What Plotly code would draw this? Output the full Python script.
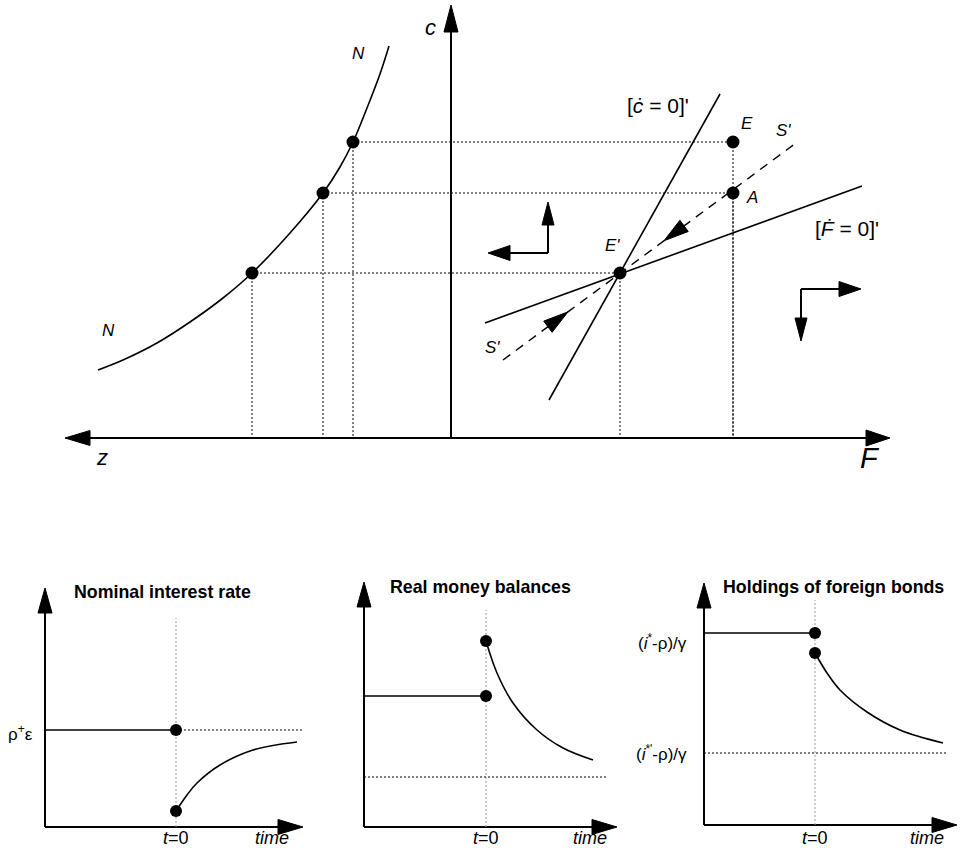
import math
import plotly.graph_objects as go

W, H = 960, 858
FONT = "Liberation Sans, Arial, sans-serif"

# ---------------- main phase diagram (z to the left, F to the right, c up) ----------------
n_curve_z = [-353, -328, -294, -261, -228, -199, -161, -128, -111, -98, -84, -71, -62]
n_curve_c = [68, 78, 95, 116, 140, 165, 205, 245, 271, 296, 330, 364, 392]
z_levels = [-199, -128, -98]          # points on N
c_levels = [165, 245, 296]            # c at E', A, E
F_levels = [169, 282, 282]            # F at E', A, E
point_names = ["E'", "A", "E"]
cdot_F = [98, 269]
cdot_c = [38, 344]
Fdot_F = [34, 411]
Fdot_c = [115, 252]
saddle_F = [52, 345]
saddle_c = [78, 295]
c_axis_top = 433
F_axis_right = 439
z_axis_left = -386

# ---------------- bottom panels ----------------
# 1: nominal interest rate
p1_t0 = 131
p1_level = 97
p1_low = 16
p1_curve_t = [131, 142, 152, 175, 208, 252]
p1_curve_v = [16, 32, 44, 62, 77, 85]
p1_t_end = 258
# 2: real money balances
p2_t0 = 122
p2_level = 131
p2_high = 186
p2_curve_t = [122, 133, 149, 173, 199, 229]
p2_curve_v = [186, 154, 124, 97, 79, 67]
p2_new_level = 50
p2_t_end = 243
# 3: holdings of foreign bonds
p3_t0 = 111
p3_level = 192
p3_low = 172
p3_curve_t = [111, 123, 136, 163, 196, 239]
p3_curve_v = [172, 152, 135, 113, 95, 82]
p3_new_level = 72
p3_t_end = 244

fig = go.Figure()


def line(xs, ys, ax, width=1.6, dash="solid", color="black", shape="linear"):
    fig.add_trace(go.Scatter(x=xs, y=ys, mode="lines", xaxis=ax[0], yaxis=ax[1],
                             line=dict(color=color, width=width, dash=dash, shape=shape, smoothing=1.0),
                             hoverinfo="skip", showlegend=False))


def dots(xs, ys, ax, size=13):
    fig.add_trace(go.Scatter(x=xs, y=ys, mode="markers", xaxis=ax[0], yaxis=ax[1],
                             marker=dict(color="black", size=size, line=dict(width=0)),
                             hoverinfo="skip", showlegend=False))


def head(tip, d, L, Wd, ax):
    n = math.hypot(d[0], d[1])
    ux, uy = d[0] / n, d[1] / n
    bx, by = tip[0] - ux * L, tip[1] - uy * L
    px, py = -uy * Wd / 2, ux * Wd / 2
    fig.add_trace(go.Scatter(x=[tip[0], bx + px, bx - px, tip[0]],
                             y=[tip[1], by + py, by - py, tip[1]],
                             mode="lines", fill="toself", fillcolor="black",
                             line=dict(color="black", width=1), xaxis=ax[0], yaxis=ax[1],
                             hoverinfo="skip", showlegend=False))


def text(s, x, y, ax, size=15, italic=False, bold=False, xanchor="center", yanchor="middle"):
    if italic:
        s = "<i>" + s + "</i>"
    if bold:
        s = "<b>" + s + "</b>"
    fig.add_annotation(x=x, y=y, xref=ax[0], yref=ax[1], text=s, showarrow=False,
                       xanchor=xanchor, yanchor=yanchor,
                       font=dict(family=FONT, size=size, color="black"))


M = ("x", "y")
# axes
line([0, 0], [0, c_axis_top - 20], M, width=2)
head((0, c_axis_top), (0, 1), 27, 14, M)
line([z_axis_left + 20, F_axis_right - 20], [0, 0], M, width=2)
head((F_axis_right, 0), (1, 0), 24, 16, M)
head((z_axis_left, 0), (-1, 0), 25, 15, M)
text("c", -21, 411, M, size=22, italic=True)
text("z", -349, -19, M, size=22, italic=True)
text("F", 419, -20, M, size=29, italic=True)

# dotted guides
for z, c, F in zip(z_levels, c_levels, F_levels):
    line([z, F], [c, c], M, width=1, dash="2px,2px")
    line([z, z], [c, 0], M, width=1, dash="2px,2px")
for F, c in zip(F_levels, c_levels):
    line([F, F], [c, 0], M, width=1, dash="2px,2px")

# N curve
line(n_curve_z, n_curve_c, M, width=1.6, shape="spline")
dots(z_levels, c_levels, M)
text("N", -93, 385, M, size=17, italic=True)
text("N", -343, 108, M, size=17, italic=True)

# loci
line(cdot_F, cdot_c, M, width=1.6)
line(Fdot_F, Fdot_c, M, width=1.6)
line(saddle_F, saddle_c, M, width=1.4, dash="9px,7px")
sl = (saddle_c[1] - saddle_c[0]) / (saddle_F[1] - saddle_F[0])
head((117, saddle_c[0] + sl * (117 - saddle_F[0])), (1, sl), 25, 14, M)
head((213, saddle_c[0] + sl * (213 - saddle_F[0])), (-1, -sl), 25, 14, M)
dots(F_levels, c_levels, M)
text("E", 296, 315, M, size=17, italic=True)
text("A", 301, 241, M, size=17, italic=True)
text("E'", 161, 193, M, size=17, italic=True)
text("S'", 332, 308, M, size=17, italic=True)
text("S'", 41, 91, M, size=17, italic=True)
text("[<i>ċ</i> = 0]'", 207, 333, M, size=21)
text("[<i>Ḟ</i> = 0]'", 396, 210, M, size=21)

# direction arrows
line([97, 97], [185, 236 - 15], M, width=2)
head((97, 236), (0, 1), 23, 12, M)
line([97, 37 + 15], [185, 185], M, width=2)
head((37, 185), (-1, 0), 22, 15, M)
line([350, 350], [149, 97 + 15], M, width=2)
head((350, 97), (0, -1), 23, 12, M)
line([350, 410 - 15], [149, 149], M, width=2)
head((410, 149), (1, 0), 22, 15, M)


def panel_axes(ax, xtip, ytip):
    line([0, 0], [0, ytip - 15], ax, width=2)
    head((0, ytip), (0, 1), 25, 14, ax)
    line([0, xtip - 15], [0, 0], ax, width=2)
    head((xtip, 0), (1, 0), 25, 15, ax)


TS = 17.8
# panel 1
P1 = ("x2", "y2")
panel_axes(P1, 258, 239)
line([p1_t0, p1_t0], [0, 209], P1, width=1, dash="2px,2px", color="#999999")
line([0, p1_t0], [p1_level, p1_level], P1, width=1.6)
line([p1_t0, p1_t_end], [p1_level, p1_level], P1, width=1, dash="2px,2px")
line(p1_curve_t, p1_curve_v, P1, width=1.6, shape="spline")
dots([p1_t0, p1_t0], [p1_level, p1_low], P1, size=12)
text("Nominal interest rate", 117, 235, P1, size=TS, bold=True)
text("ρ<sup>+</sup>ε", -25, 94, P1, size=17)
text("<i>t</i>=0", p1_t0, -11, P1, size=18)
text("time", 227, -11, P1, size=18, italic=True)

# panel 2
P2 = ("x3", "y3")
panel_axes(P2, 253, 245)
line([p2_t0, p2_t0], [0, 217], P2, width=1, dash="2px,2px", color="#999999")
line([0, p2_t0], [p2_level, p2_level], P2, width=1.6)
line([0, p2_t_end], [p2_new_level, p2_new_level], P2, width=1, dash="2px,2px")
line(p2_curve_t, p2_curve_v, P2, width=1.6, shape="spline")
dots([p2_t0, p2_t0], [p2_level, p2_high], P2, size=12)
text("Real money balances", 116, 240, P2, size=TS, bold=True)
text("<i>t</i>=0", p2_t0, -11, P2, size=18)
text("time", 226, -11, P2, size=18, italic=True)

# panel 3
P3 = ("x4", "y4")
panel_axes(P3, 253, 242)
line([p3_t0, p3_t0], [0, 225], P3, width=1, dash="2px,2px", color="#999999")
line([0, p3_t0], [p3_level, p3_level], P3, width=1.6)
line([0, p3_t_end], [p3_new_level, p3_new_level], P3, width=1, dash="2px,2px")
line(p3_curve_t, p3_curve_v, P3, width=1.6, shape="spline")
dots([p3_t0, p3_t0], [p3_level, p3_low], P3, size=12)
text("Holdings of foreign bonds", 129, 238, P3, size=TS, bold=True)
text("(<i>i</i><sup>*</sup>-ρ)/γ", -15, 183, P3, size=17, xanchor="right")
text("(<i>i</i><sup>*'</sup>-ρ)/γ", -15, 72, P3, size=17, xanchor="right")
text("<i>t</i>=0", p3_t0, -13, P3, size=18)
text("time", 223, -13, P3, size=18, italic=True)


def ax_cfg(px0, px1, ox):
    return dict(domain=[px0 / W, px1 / W], range=[px0 - ox, px1 - ox], visible=False, fixedrange=True)


def ay_cfg(py_top, py_bot, oy):
    return dict(domain=[1 - py_bot / H, 1 - py_top / H], range=[oy - py_bot, oy - py_top],
                visible=False, fixedrange=True)


fig.update_layout(
    width=W, height=H, margin=dict(l=0, r=0, t=0, b=0),
    paper_bgcolor="white", plot_bgcolor="white", showlegend=False,
    xaxis=ax_cfg(0, 960, 451), yaxis=ay_cfg(0, 480, 438),
    xaxis2=dict(ax_cfg(0, 320, 45), anchor="y2"), yaxis2=dict(ay_cfg(570, 858, 827), anchor="x2"),
    xaxis3=dict(ax_cfg(320, 630, 364), anchor="y3"), yaxis3=dict(ay_cfg(570, 858, 827), anchor="x3"),
    xaxis4=dict(ax_cfg(630, 960, 704), anchor="y4"), yaxis4=dict(ay_cfg(570, 858, 825), anchor="x4"),
)

fig.write_html("out.html", config={"displayModeBar": False},
               post_script="document.body.style.margin='0';document.body.style.overflow='hidden';")
